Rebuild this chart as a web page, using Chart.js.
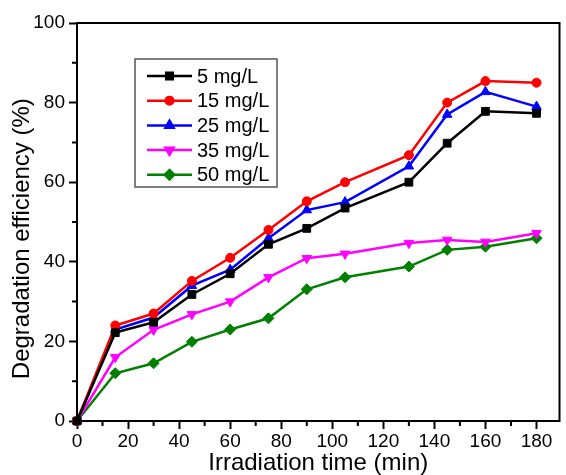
<!DOCTYPE html>
<html><head><meta charset="utf-8">
<script src="https://cdn.jsdelivr.net/npm/chart.js@4/dist/chart.umd.min.js"></script>
<style>html,body{margin:0;padding:0;background:#fff;overflow:hidden}#wrap{width:566px;height:475px;position:relative}</style>
</head><body><div id="wrap"><canvas id="c" width="566" height="475"></canvas></div>
<script>
const times = [0, 15, 30, 45, 60, 75, 90, 105, 130, 145, 160, 180];
const seriesLabels = ['5 mg/L', '15 mg/L', '25 mg/L', '35 mg/L', '50 mg/L'];
const s5  = [0, 22.2, 24.8, 31.8, 37.0, 44.4, 48.4, 53.5, 60.0, 69.8, 77.8, 77.3];
const s15 = [0, 24.0, 27.0, 35.2, 41.0, 48.0, 55.2, 60.0, 66.8, 80.0, 85.4, 85.0];
const s25 = [0, 23.0, 26.0, 34.0, 38.0, 45.9, 53.0, 55.0, 64.0, 77.0, 82.7, 79.0];
const s35 = [0, 16.0, 22.9, 26.8, 30.0, 36.1, 40.9, 42.0, 44.7, 45.5, 45.0, 47.2];
const s50 = [0, 12.0, 14.5, 19.9, 23.0, 25.8, 33.1, 36.1, 38.8, 43.0, 43.8, 45.9];
const xTickLabels = [0, 20, 40, 60, 80, 100, 120, 140, 160, 180];
const xMinorTicks = [10, 30, 50, 70, 90, 110, 130, 150, 170];
const yTickLabels = [0, 20, 40, 60, 80, 100];
const yMinorTicks = [10, 30, 50, 70, 90];
const xTitle = 'Irradiation time (min)';
const yTitle = 'Degradation efficiency (%)';

const colors = ['#000000', '#ff0000', '#0000ff', '#ff00ff', '#008000'];
const styles = [
  {pointStyle: 'rect', rot: 0, r: 5.5},
  {pointStyle: 'circle', rot: 0, r: 4.5},
  {pointStyle: 'triangle', rot: 0, r: 5.5},
  {pointStyle: 'triangle', rot: 180, r: 5.5},
  {pointStyle: 'rectRot', rot: 0, r: 5.5}
];
const allSeries = [s5, s15, s25, s35, s50];
const FONT = "'Liberation Sans', Arial, sans-serif";

const datasets = allSeries.map((s, i) => ({
  label: seriesLabels[i],
  data: times.map((t, j) => ({x: t, y: s[j]})),
  borderColor: colors[i],
  backgroundColor: colors[i],
  borderWidth: 2.5,
  pointStyle: styles[i].pointStyle,
  pointRotation: styles[i].rot,
  pointRadius: styles[i].r,
  pointBorderWidth: 1,
  tension: 0,
  clip: false
}));

const framePlugin = {
  id: 'frame',
  afterDraw(chart) {
    const ctx = chart.ctx, a = chart.chartArea;
    const xs = chart.scales.x, ys = chart.scales.y;
    ctx.save();
    ctx.strokeStyle = '#000';
    ctx.lineWidth = 2;
    ctx.strokeRect(a.left, a.top, a.right - a.left, a.bottom - a.top);
    ctx.beginPath();
    xMinorTicks.forEach(v => {
      const px = xs.getPixelForValue(v);
      ctx.moveTo(px, a.bottom); ctx.lineTo(px, a.bottom + 5);
    });
    yMinorTicks.forEach(v => {
      const py = ys.getPixelForValue(v);
      ctx.moveTo(a.left, py); ctx.lineTo(a.left - 5, py);
    });
    ctx.stroke();
    // legend
    const bx = 135, by = 59, bw = 142, bh = 128;
    ctx.fillStyle = '#fff';
    ctx.fillRect(bx, by, bw, bh);
    ctx.strokeStyle = '#555';
    ctx.lineWidth = 1.5;
    ctx.strokeRect(bx, by, bw, bh);
    ctx.font = '20px ' + FONT;
    ctx.textBaseline = 'middle';
    ctx.textAlign = 'left';
    chart.data.datasets.forEach((ds, i) => {
      const cy = 76 + i * 24.7;
      ctx.strokeStyle = ds.borderColor;
      ctx.lineWidth = 2.5;
      ctx.beginPath(); ctx.moveTo(147, cy); ctx.lineTo(192, cy); ctx.stroke();
      ctx.fillStyle = ds.borderColor;
      Chart.helpers.drawPoint(ctx, {pointStyle: ds.pointStyle, rotation: ds.pointRotation, radius: ds.pointRadius * 0.85, borderWidth: 1}, 169.5, cy);
      ctx.fillStyle = '#000';
      ctx.fillText(ds.label, 197, cy + 1);
    });
    ctx.restore();
  }
};

new Chart(document.getElementById('c'), {
  type: 'line',
  data: {datasets},
  options: {
    responsive: false,
    animation: false,
    devicePixelRatio: 1,
    layout: {padding: {top: 23, right: 1, left: 0, bottom: 0}},
    plugins: {legend: {display: false}, tooltip: {enabled: false}},
    scales: {
      x: {
        type: 'linear', min: 0, max: 189,
        afterBuildTicks: s => { s.ticks = xTickLabels.map(v => ({value: v})); },
        afterFit: s => { s.height = 54; },
        ticks: {
          autoSkip: false, maxRotation: 0, padding: 1,
          color: '#000', font: {size: 19, family: FONT},
          callback: v => String(v)
        },
        grid: {drawOnChartArea: false, tickLength: 8, tickWidth: 2, tickColor: '#000'},
        border: {color: '#000', width: 2},
        title: {display: true, text: xTitle, color: '#000', font: {size: 24, family: FONT}, padding: {top: 0, bottom: -3}}
      },
      y: {
        min: 0, max: 100,
        afterBuildTicks: s => { s.ticks = yTickLabels.map(v => ({value: v})); },
        afterFit: s => { s.width = 77; },
        ticks: {
          autoSkip: false, padding: 4,
          color: '#000', font: {size: 19, family: FONT},
          callback: v => String(v)
        },
        grid: {drawOnChartArea: false, tickLength: 8, tickWidth: 2, tickColor: '#000'},
        border: {color: '#000', width: 2},
        title: {display: true, text: yTitle + '     ', color: '#000', font: {size: 24, family: FONT}, padding: {top: 8, bottom: 0}}
      }
    }
  },
  plugins: [framePlugin]
});
</script></body></html>
